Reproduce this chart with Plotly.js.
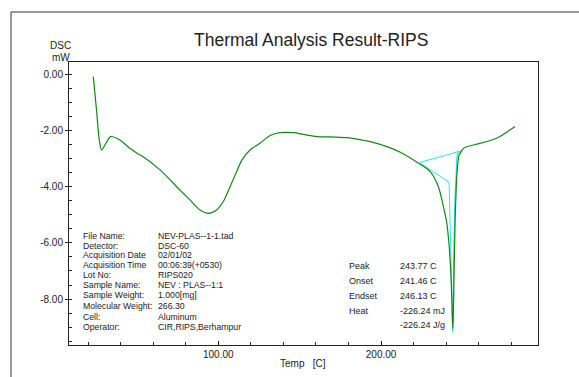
<!DOCTYPE html>
<html>
<head>
<meta charset="utf-8">
<script src="https://cdn.plot.ly/plotly-3.0.1.min.js"></script>
<style>html,body{margin:0;padding:0;background:#fff;}#chart{width:579px;height:377px;}</style>
</head>
<body>
<div id="chart"></div>
<script>
// DSC curve (Temp [C] vs DSC [mW])
const temp = [23.2, 25.2, 26.9, 28.3, 30.4, 33.9, 39.6, 45.7, 50.8, 53.9, 64.2, 76.5, 82.6, 88.8, 93.9, 99.0, 103.1, 107.2, 111.3, 114.5, 119.5, 125.6, 131.8, 137.9, 146.1, 152.3, 160.5, 168.7, 179.0, 185.1, 193.3, 203.6, 211.8, 223.0, 230.2, 235.2, 238.3, 240.4, 241.8, 242.8, 243.5, 244.0, 244.3, 244.9, 245.5, 246.2, 246.9, 247.9, 248.6, 250.6, 252.7, 260.8, 271.0, 279.3, 282.3];
const dsc  = [-0.06, -1.25, -2.32, -2.68, -2.50, -2.20, -2.32, -2.62, -2.82, -2.92, -3.39, -4.11, -4.46, -4.82, -4.94, -4.82, -4.52, -3.99, -3.45, -3.04, -2.68, -2.44, -2.16, -2.06, -2.06, -2.12, -2.20, -2.21, -2.24, -2.29, -2.38, -2.56, -2.76, -3.15, -3.45, -3.99, -4.70, -5.30, -6.10, -7.00, -8.10, -9.05, -8.75, -6.96, -5.18, -3.99, -3.30, -2.86, -2.80, -2.62, -2.56, -2.44, -2.26, -1.96, -1.84];

// analysis construction lines (cyan)
const baseT = [223.6, 249.6];
const baseV = [-3.13, -2.70];
const onsetT = [223.6, 241.8, 244.0];
const onsetV = [-3.13, -3.83, -9.17];
const endT = [249.6, 246.9, 246.5, 245.3, 244.5, 244.0];
const endV = [-2.70, -2.79, -3.04, -4.58, -6.96, -9.17];

// axis ticks
const yTickVals = [0, -2, -4, -6, -8];
const yTickText = ["0.00", "-2.00", "-4.00", "-6.00", "-8.00"];
const xTickVals = [100, 200];
const xTickText = ["100.00", "200.00"];

// info block
const infoLabels = ["File Name:", "Detector:", "Acquisition Date", "Acquisition Time", "Lot No:", "Sample Name:", "Sample Weight:", "Molecular Weight:", "Cell:", "Operator:"];
const infoValues = ["NEV-PLAS--1-1.tad", "DSC-60", "02/01/02", "00:06:39(+0530)", "RIPS020", "NEV : PLAS--1:1", "1.000[mg]", "266.30", "Aluminum", "CIR,RIPS,Berhampur"];
const infoRowsPx = [235.7, 245.7, 255.0, 265.0, 275.0, 284.8, 295.0, 305.7, 316.7, 327.3];

const resLabels = ["Peak", "Onset", "Endset", "Heat", ""];
const resValues = ["243.77 C", "241.46 C", "246.13 C", "-226.24 mJ", "-226.24 J/g"];
const resRowsPx = [265.7, 281.0, 295.7, 311.0, 324.7];

const L = 69, R = 41, T = 62, B = 32, W = 579, H = 377;
const pw = W - L - R, ph = H - T - B;
const px2x = p => (p - L) / pw;
const py2y = p => (H - B - p) / ph;

const FONT = "Liberation Sans, Arial, sans-serif";
const TXT = "#222";

const annotations = [];
function ann(text, xp, yp, size, anchor) {
  annotations.push({text: text, xref: "paper", yref: "paper", x: px2x(xp), y: py2y(yp),
    xanchor: anchor || "left", yanchor: "middle", showarrow: false,
    font: {family: FONT, size: size, color: TXT}});
}
ann("Thermal Analysis Result-RIPS", 310.5, 40, 17.5, "center");
ann("DSC", 60.5, 45, 10, "center");
ann("mW", 60.5, 57, 10, "center");
ann("Temp&nbsp;&nbsp;&nbsp;[C]", 303.3, 363, 10, "center");
infoLabels.forEach((t, i) => ann(t, 80.7, infoRowsPx[i], 8.7));
infoValues.forEach((t, i) => ann(t, 155.7, infoRowsPx[i], 8.7));
resLabels.forEach((t, i) => { if (t) ann(t, 347.3, resRowsPx[i], 9); });
resValues.forEach((t, i) => ann(t, 397.7, resRowsPx[i], 9));

const cyan = "#2ee6e6";
const traces = [
  {x: baseT, y: baseV, mode: "lines", line: {color: cyan, width: 1}, hoverinfo: "skip"},
  {x: onsetT, y: onsetV, mode: "lines", line: {color: cyan, width: 1}, hoverinfo: "skip"},
  {x: endT, y: endV, mode: "lines", line: {color: cyan, width: 1.2}, hoverinfo: "skip"},
  {x: temp, y: dsc, mode: "lines", line: {color: "#12881a", width: 1.2, shape: "spline", smoothing: 0.8}, hoverinfo: "skip"}
];

const layout = {
  width: W, height: H,
  margin: {l: L, r: R, t: T, b: B, pad: 0},
  paper_bgcolor: "#fff", plot_bgcolor: "#fff",
  showlegend: false,
  font: {family: FONT, size: 10, color: TXT},
  xaxis: {
    range: [8.3, 296.4], showgrid: false, zeroline: false,
    showline: true, mirror: true, linecolor: "#222", linewidth: 1,
    tickmode: "array", tickvals: xTickVals, ticktext: xTickText,
    ticks: "inside", ticklen: 4, tickcolor: "#222",
    minor: {dtick: 20, tick0: 0, ticks: "inside", ticklen: 3, tickcolor: "#222", showgrid: false},
    tickfont: {family: FONT, size: 10, color: TXT}
  },
  yaxis: {
    range: [-9.643, 0.464], showgrid: false, zeroline: false,
    showline: true, mirror: true, linecolor: "#222", linewidth: 1,
    tickmode: "array", tickvals: yTickVals, ticktext: yTickText,
    ticks: "outside", ticklen: 3, tickcolor: "#222",
    minor: {dtick: 0.5, tick0: 0, ticks: "inside", ticklen: 3, tickcolor: "#222", showgrid: false},
    tickfont: {family: FONT, size: 10, color: TXT}
  },
  annotations: annotations,
  shapes: [
    {type: "line", xref: "paper", yref: "paper", x0: px2x(11), x1: px2x(11), y0: py2y(12), y1: py2y(400), line: {color: "#333", width: 1}},
    {type: "line", xref: "paper", yref: "paper", x0: px2x(11), x1: px2x(600), y0: py2y(12), y1: py2y(12), line: {color: "#333", width: 1}}
  ]
};

Plotly.newPlot("chart", traces, layout, {staticPlot: true, displayModeBar: false});
</script>
</body>
</html>
